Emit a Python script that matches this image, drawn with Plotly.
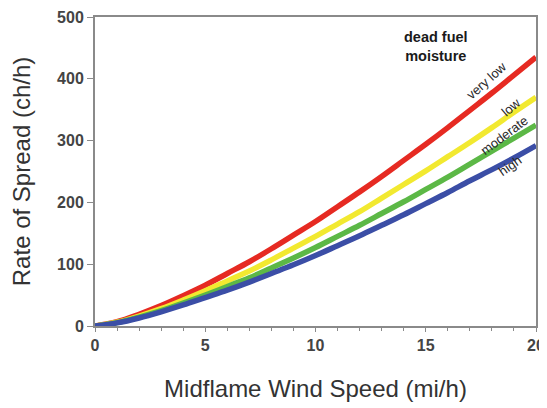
import plotly.graph_objects as go

wind_speed = list(range(0, 21))
very_low = [0, 7, 19, 33, 49, 66, 85, 104, 125, 147, 169, 193, 217, 242, 268, 294, 321, 349, 377, 406, 435]
low = [0, 6, 16, 28, 42, 57, 73, 89, 107, 126, 145, 165, 185, 207, 229, 251, 274, 297, 321, 346, 370]
moderate = [0, 5.5, 14.5, 25, 37, 50, 64, 78, 94, 110, 127, 145, 163, 182, 201, 221, 241, 262, 283, 304, 325]
high = [0, 5, 13, 23, 34, 46, 58, 71, 85, 99, 114, 130, 146, 163, 180, 198, 216, 235, 253, 272, 292]

series = [
    ("very low", very_low, "#e62a22"),
    ("low", low, "#f2e930"),
    ("moderate", moderate, "#5cb846"),
    ("high", high, "#3b4ea6"),
]
labels = [
    ("very low", 17.75, 398, -42),
    ("low", 18.85, 354, -40),
    ("moderate", 18.55, 308, -37),
    ("high", 18.85, 259, -35),
]

FONT = "Liberation Sans, Arial"

fig = go.Figure()
for name, ys, col in series:
    fig.add_trace(go.Scatter(x=wind_speed, y=ys, mode="lines", name=name,
                             line=dict(color=col, width=5.5, shape="spline"),
                             showlegend=False, cliponaxis=False))

for txt, x, y, ang in labels:
    fig.add_annotation(x=x, y=y, text=txt, showarrow=False, textangle=ang,
                       font=dict(family=FONT, size=13, color="#2a2a2a"))

fig.add_annotation(x=15.45, y=453, text="<b>dead fuel<br>moisture</b>", showarrow=False,
                   align="center", font=dict(family=FONT, size=14.5, color="#1a1a1a"))

axis_common = dict(showline=True, linecolor="#8a8a8a", linewidth=2, mirror=True,
                   showgrid=False, zeroline=False, automargin=False,
                   ticklabeloverflow="allow",
                   tickfont=dict(family=FONT, size=16, color="#444", weight="bold"))

fig.update_xaxes(range=[0, 20], tickvals=[0, 5, 10, 15, 20], ticks="outside", ticklen=4,
                 tickcolor="#8a8a8a",
                 minor=dict(dtick=1, ticks="outside", ticklen=3, tickcolor="#8a8a8a"),
                 title=dict(text="Midflame Wind Speed (mi/h)", standoff=27,
                            font=dict(family=FONT, size=24, color="#333")),
                 **axis_common)
fig.update_yaxes(range=[0, 500], tickvals=[0, 100, 200, 300, 400, 500], ticks="outside", ticklen=6,
                 tickcolor="#8a8a8a",
                 title=dict(text="Rate of Spread (ch/h)", standoff=21,
                            font=dict(family=FONT, size=24, color="#333")),
                 **axis_common)

fig.update_layout(width=539, height=400, margin=dict(l=87, r=11, t=9, b=82),
                  plot_bgcolor="white", paper_bgcolor="white")

fig.write_html("out.html")
